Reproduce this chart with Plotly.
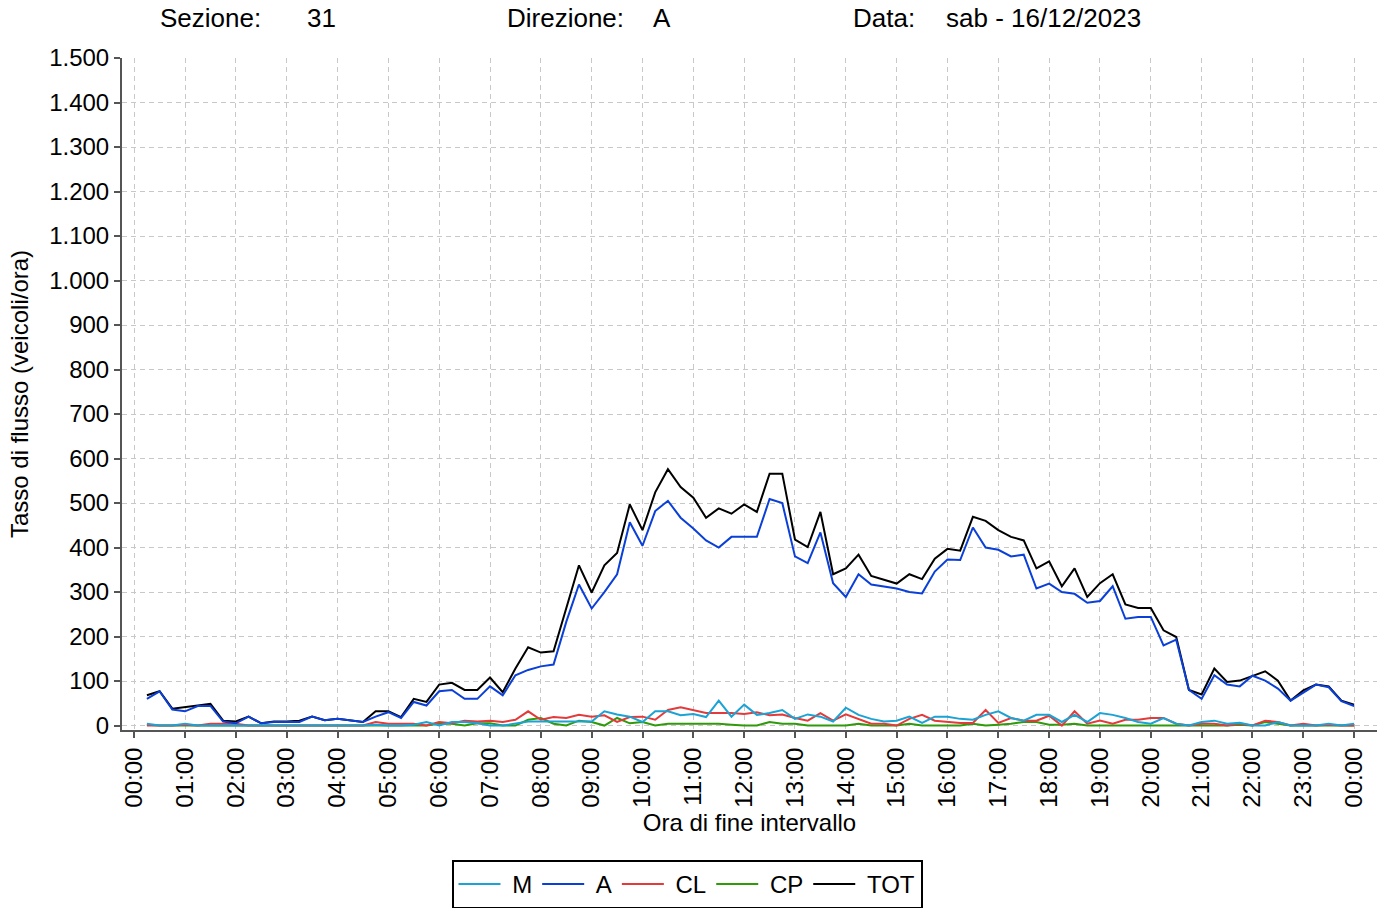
import numpy as np
import plotly.graph_objects as go

# Quarter-hour intervals, labelled by end time (00:15 ... 24:00)
ore = np.arange(1, 97) * 0.25

# Flow rates per vehicle class (veicoli/ora)
M = [4, 0, 0, 4, 0, 0, 0, 0, 0, 0, 0, 0, 0, 0, 0, 0, 0, 0, 2, 0, 0, 2, 8, 0,
     8, 8, 5, 0, 0, 4, 9, 9, 9, 9, 9, 9, 32, 25, 20, 8, 32, 32, 23, 26, 19, 56, 20, 47,
     24, 28, 35, 15, 25, 20, 9, 40, 24, 15, 9, 11, 20, 6, 20, 20, 15, 13, 24, 32, 17, 11, 24, 24,
     8, 24, 8, 28, 24, 17, 8, 4, 17, 4, 0, 8, 11, 4, 6, 0, 0, 8, 0, 0, 0, 4, 0, 4]
A = [60, 77, 36, 32, 44, 44, 9, 5, 20, 5, 8, 8, 8, 20, 12, 15, 12, 8, 20, 30, 17, 53, 45, 77,
     80, 60, 60, 88, 68, 113, 125, 133, 137, 233, 317, 263, 300, 340, 457, 404, 482, 505, 467, 443, 416, 400, 424, 424,
     424, 509, 500, 380, 365, 434, 320, 289, 340, 317, 313, 308, 300, 297, 346, 373, 372, 445, 400, 395, 380, 384, 308, 319,
     300, 296, 276, 280, 313, 240, 244, 244, 180, 193, 80, 60, 113, 92, 88, 112, 101, 83, 56, 75, 92, 86, 55, 44]
CL = [0, 0, 0, 2, 0, 4, 4, 4, 0, 0, 0, 0, 0, 0, 0, 0, 0, 0, 8, 4, 4, 4, 0, 8,
      5, 11, 9, 11, 8, 13, 32, 13, 19, 17, 24, 20, 23, 8, 19, 20, 13, 35, 41, 35, 28, 28, 28, 26,
      30, 23, 25, 17, 11, 28, 11, 25, 15, 4, 4, 0, 15, 24, 11, 9, 6, 6, 35, 6, 17, 11, 11, 22,
      0, 32, 4, 11, 4, 13, 13, 17, 17, 4, 0, 4, 4, 0, 4, 0, 11, 8, 0, 4, 0, 2, 0, 0]
CP = [2, 0, 0, 0, 0, 0, 0, 0, 0, 0, 0, 0, 0, 0, 0, 0, 0, 0, 0, 0, 0, 0, 0, 4,
      4, 0, 5, 5, 0, 0, 13, 17, 4, 0, 11, 8, 0, 17, 5, 8, 0, 4, 4, 4, 4, 4, 2, 0,
      0, 8, 4, 4, 0, 0, 0, 0, 4, 0, 0, 0, 4, 0, 0, 0, 0, 4, 0, 2, 4, 8, 8, 2,
      2, 4, 0, 0, 0, 0, 0, 0, 0, 0, 0, 0, 0, 0, 2, 0, 8, 4, 0, 0, 0, 0, 0, 0]
TOT = [68, 77, 38, 41, 45, 49, 11, 9, 20, 5, 9, 9, 11, 20, 12, 15, 12, 8, 32, 32, 19, 60, 53, 92,
       96, 80, 80, 108, 75, 128, 176, 164, 167, 266, 360, 299, 360, 388, 497, 439, 524, 576, 536, 512, 467, 488, 476, 497,
       480, 566, 566, 418, 401, 480, 340, 353, 384, 336, 328, 319, 340, 329, 375, 397, 393, 469, 460, 439, 424, 416, 353, 369,
       313, 353, 289, 320, 340, 272, 264, 264, 214, 199, 80, 70, 128, 98, 101, 112, 122, 101, 56, 79, 92, 88, 56, 47]

# Hour ticks and labels
tick_ore = list(range(0, 25))
tick_lab = [f"{h:02d}:00" for h in range(24)] + ["00:00"]
y_ticks = list(range(0, 1501, 100))
y_lab = ["0", "100", "200", "300", "400", "500", "600", "700", "800", "900",
         "1.000", "1.100", "1.200", "1.300", "1.400", "1.500"]

FONT = "Liberation Sans, Arial, sans-serif"

# Drawn bottom-up so that M sits on top; legend shown in reversed order
series = [
    ("TOT", TOT, "#000000"),
    ("CP", CP, "#2f9a0a"),
    ("CL", CL, "#e33b3b"),
    ("A", A, "#0a3fd8"),
    ("M", M, "#1aa3d4"),
]

fig = go.Figure()
for name, vals, col in series:
    fig.add_trace(go.Scatter(x=ore, y=vals, name="\u00a0" + name, mode="lines",
                             line=dict(color=col, width=2)))

L, R, T, B = 122, 9, 58, 178
W, H = 1386, 908
pw = W - L - R
ph = H - T - B


def px(x):
    return (x - L) / pw


def py(y):
    return (H - B - y) / ph


header = [
    ("Sezione:", 158), ("31", 305),
    ("Direzione:", 505), ("A", 651),
    ("Data:", 851), ("sab - 16/12/2023", 944),
]
annotations = [
    dict(text=t, x=px(x0), y=py(18), xref="paper", yref="paper",
         xanchor="left", yanchor="middle", showarrow=False,
         font=dict(size=26, color="#000", family=FONT))
    for t, x0 in header
]

fig.update_layout(
    width=W, height=H,
    margin=dict(l=L, r=R, t=T, b=B, autoexpand=False),
    paper_bgcolor="white", plot_bgcolor="white",
    font=dict(family=FONT, color="#000"),
    showlegend=True,
    legend=dict(orientation="h", traceorder="reversed",
                x=px(687), xanchor="center", y=py(860), yanchor="top",
                bordercolor="#000", borderwidth=2,
                font=dict(size=24, family=FONT, color="#000"),
                itemwidth=42),
    annotations=annotations,
    xaxis=dict(
        range=[-0.24, 24.45],
        tickmode="array", tickvals=tick_ore, ticktext=tick_lab,
        tickangle=-90, tickfont=dict(size=24, family=FONT, color="#000"),
        ticks="outside", ticklen=6, tickcolor="#555", tickwidth=2,
        showline=True, linecolor="#555", linewidth=2,
        showgrid=True, gridcolor="#c8c8c8", gridwidth=1, griddash="5px,4px",
        zeroline=False,
        title=dict(text="Ora di fine intervallo", standoff=8,
                   font=dict(size=24, family=FONT, color="#000")),
    ),
    yaxis=dict(
        range=[-10, 1500],
        tickmode="array", tickvals=y_ticks, ticktext=y_lab,
        tickfont=dict(size=24, family=FONT, color="#000"),
        ticks="outside", ticklen=6, tickcolor="#555", tickwidth=2,
        showline=True, linecolor="#555", linewidth=2,
        showgrid=True, gridcolor="#c8c8c8", gridwidth=1, griddash="5px,4px",
        zeroline=False,
        title=dict(text="Tasso di flusso (veicoli/ora)", standoff=14,
                   font=dict(size=24, family=FONT, color="#000")),
    ),
)

fig.write_html("out.html")
